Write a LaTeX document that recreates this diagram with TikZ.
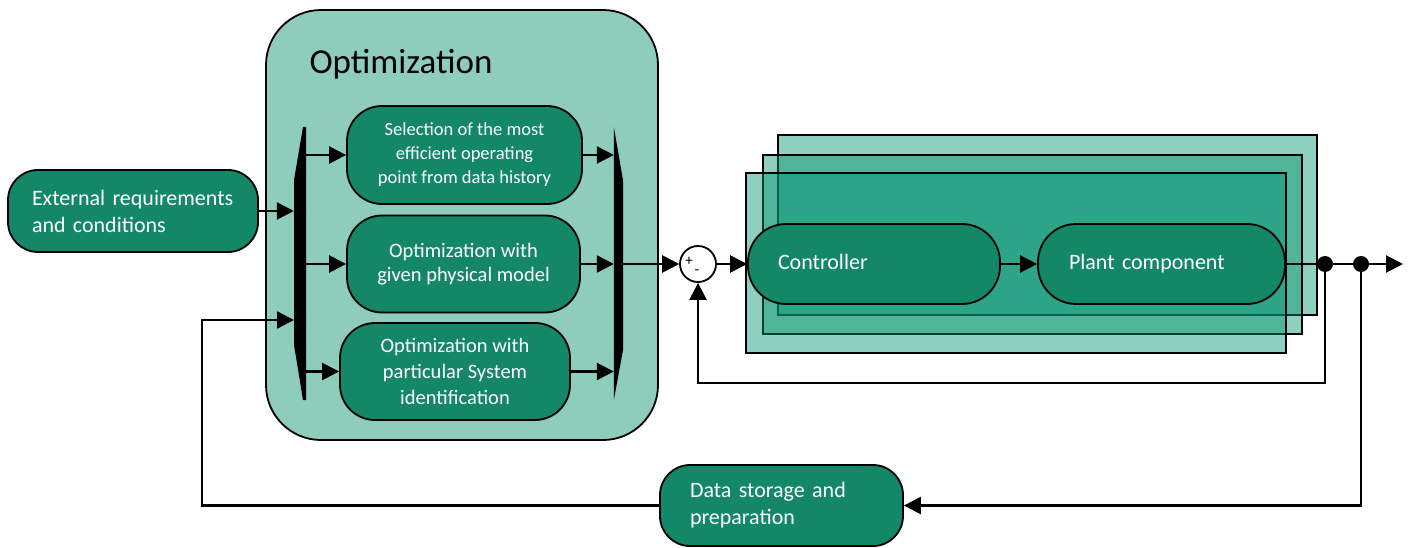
\documentclass[tikz,border=0pt]{standalone}
\usepackage{fontspec}
\setmainfont{Carlito}
\usetikzlibrary{arrows.meta,positioning}

\definecolor{optbg}{RGB}{142,205,187}
\definecolor{blockfill}{RGB}{19,135,104}
\definecolor{stackcol}{RGB}{0,145,110}

\tikzset{
	block/.style={draw, line width=1.8pt, fill=blockfill, text=white, inner sep=0pt},
	arr/.style={-{Triangle[length=17pt,width=17pt]}, line width=2.5pt},
	layer/.style={draw, line width=1.8pt, fill=stackcol, fill opacity=0.44},
	dot/.style={circle, fill=black, inner sep=0pt, minimum size=16pt},
}

\begin{document}
\begin{tikzpicture}[x=1pt,y=-1pt]
		\useasboundingbox (0,0) rectangle (1416,548);

		% optimization block
		\node[draw, line width=1.8pt, fill=optbg, rounded corners=55pt, minimum width=392pt, minimum height=430pt] (optim) at (462,225) {};
		\node[anchor=base west, font=\fontsize{35}{40}\selectfont] (optTitle) at (306,74) {Optimization};

		\node[minimum width=12pt, minimum height=273pt, inner sep=0pt] (demux) at (300,263.5) {};
		\node[minimum width=9pt, minimum height=273pt, inner sep=0pt] (mux) at (618.5,263.5) {};
		\fill (demux.north east) -- (demux.south east) -- (303,400) -- (294,345) -- (294,180) -- (303,127) -- cycle;
		\fill (mux.north west) -- (mux.south west) -- (623,350) -- (623,180) -- cycle;

		\node[block, rounded corners=35pt, minimum width=235pt, minimum height=98pt, align=center, font=\fontsize{18.5}{24}\selectfont] (box1) at (464.5,155) {Selection of the most\\efficient operating\\point from data history};
		\node[block, rounded corners=35pt, minimum width=233pt, minimum height=97pt, align=center, font=\fontsize{20.5}{24.5}\selectfont] (box2) at (463.5,264) {Optimization with\\given physical model};
		\node[block, rounded corners=35pt, minimum width=230pt, minimum height=97pt, align=center, font=\fontsize{20.5}{26}\selectfont] (box3) at (455,371.5) {Optimization with\\particular System\\identification};

		\node[block, rounded corners=30pt, minimum width=250pt, minimum height=82pt, text width=202pt, inner xsep=24pt, align=left, font=\fontsize{22}{27}\selectfont] (extreq) at (133,211) {External requirements\\and conditions};

		\draw[arr] (extreq.east) -- (extreq.east -| demux.west);
		\draw[arr] (demux.east |- box1) -- (box1.west);
		\draw[arr] (demux.east |- box2) -- (box2.west);
		\draw[arr] (demux.east |- box3) -- (box3.west);
		\draw[arr] (box1.east) -- (box1.east -| mux.west);
		\draw[arr] (box2.east) -- (box2.east -| mux.west);
		\draw[arr] (box3.east) -- (box3.east -| mux.west);

		% summing junction
		\node[draw, circle, line width=1.8pt, fill=white, minimum size=36pt, inner sep=0pt] (sum) at (698,264) {};
		\node[font=\fontsize{15}{15}\selectfont, inner sep=0pt] (sumPlus) at (689,261) {+};
		\node[font=\fontsize{15}{15}\selectfont, inner sep=0pt] (sumMinus) at (697,272) {-};
		\draw[arr] (mux.east |- sum) -- (sum.west);

		% stacked plants
		\node[layer, minimum width=539pt, minimum height=180pt] (layerC) at (1047.5,225) {};
		\node[layer, minimum width=539pt, minimum height=179pt] (layerB) at (1032.5,244.5) {};
		\node[layer, minimum width=540pt, minimum height=180pt] (layerA) at (1016,263) {};

		\node[block, rounded corners=38pt, minimum width=252pt, minimum height=80pt, text width=192pt, inner xsep=30pt, align=left, font=\fontsize{22}{27}\selectfont] (ctrl) at (874,264) {Controller\vphantom{p}};
		\node[block, rounded corners=38pt, minimum width=247pt, minimum height=80pt, text width=185pt, inner xsep=31pt, align=left, font=\fontsize{22}{27}\selectfont] (plant) at (1161.5,264) {Plant component};

		\draw[arr] (sum.east) -- (ctrl.west);
		\draw[arr] (ctrl.east) -- (plant.west);

		\node[dot] (dotA) at (1325,264) {};
		\node[dot] (dotB) at (1361,264) {};
		\coordinate (outEnd) at (1403,264);
		\draw[line width=2.5pt] (plant.east) -- (dotA) -- (dotB);
		\draw[arr] (dotB) -- (outEnd);

		\coordinate (fbLow) at (1325,383);
		\draw[arr] (dotA) -- (fbLow) -| (sum.south);

		% data storage
		\node[block, rounded corners=30pt, minimum width=243pt, minimum height=81pt, text width=183pt, inner xsep=30pt, align=left, font=\fontsize{22}{27}\selectfont] (store) at (781.5,505.5) {Data storage and\\preparation};
		\coordinate (storeLow) at (1361,505.5);
		\coordinate (histCorner) at (202,505.5);
		\coordinate (histIn) at (294,320);
		\draw[arr] (dotB) -- (storeLow) -- (store.east);
		\draw[arr] (store.west) -- (histCorner) |- (histIn);
	\end{tikzpicture}
\end{document}
